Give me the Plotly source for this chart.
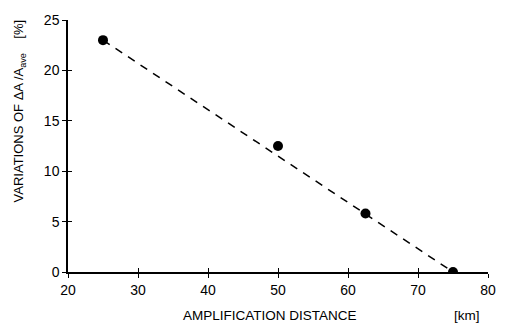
import plotly.graph_objects as go

distance_km = [25, 50, 62.5, 75]
variation_pct = [23, 12.5, 5.8, 0]
fit_x = [25, 75]
fit_y = [23, 0]
x_ticks = [20, 30, 40, 50, 60, 70, 80]
y_ticks = [0, 5, 10, 15, 20, 25]

font = dict(family="Liberation Sans, Arial, sans-serif", size=14, color="black")

fig = go.Figure()
fig.add_trace(go.Scatter(x=fit_x, y=fit_y, mode="lines",
                         line=dict(color="black", width=1.5, dash="8px,7px"),
                         showlegend=False, hoverinfo="skip"))
fig.add_trace(go.Scatter(x=distance_km, y=variation_pct, mode="markers",
                         marker=dict(color="black", size=10),
                         showlegend=False))
# overlay axes for inside ticks (crossing tick effect)
fig.add_trace(go.Scatter(x=[20], y=[0], xaxis="x2", yaxis="y2", mode="markers",
                         marker=dict(opacity=0), showlegend=False, hoverinfo="skip"))

axis_common = dict(showgrid=False, zeroline=False, showline=True, linecolor="black",
                   linewidth=1.5, tickcolor="black", tickwidth=1.2, ticklen=4)

fig.update_layout(
    width=514, height=324,
    margin=dict(l=68, r=26, t=12, b=52),
    paper_bgcolor="white", plot_bgcolor="white",
    font=font,
    xaxis=dict(range=[20, 80], tickvals=x_ticks, ticks="outside", **axis_common),
    yaxis=dict(range=[0, 25], tickvals=y_ticks, ticks="outside", **axis_common),
    xaxis2=dict(range=[20, 80], tickvals=x_ticks, ticks="inside", showticklabels=False,
                overlaying="x", showgrid=False, zeroline=False, tickcolor="black",
                tickwidth=1.2, ticklen=4, anchor="y2"),
    yaxis2=dict(range=[0, 25], tickvals=y_ticks, ticks="inside", showticklabels=False,
                overlaying="y", showgrid=False, zeroline=False, tickcolor="black",
                tickwidth=1.2, ticklen=4, anchor="x2"),
    annotations=[
        dict(text="AMPLIFICATION DISTANCE", xref="paper", yref="paper", x=0.48, y=-0.135,
             xanchor="center", yanchor="top", showarrow=False, font=dict(size=13.5)),
        dict(text="[km]", xref="paper", yref="paper", x=0.95, y=-0.135,
             xanchor="center", yanchor="top", showarrow=False, font=dict(size=13.5)),
        dict(text="VARIATIONS OF ΔA /A<sub>ave</sub>    [%]", xref="paper", yref="paper",
             x=-0.115, y=0.64, xanchor="center", yanchor="middle", textangle=-90,
             showarrow=False, font=dict(size=13)),
    ],
)

fig.write_html("out.html")
